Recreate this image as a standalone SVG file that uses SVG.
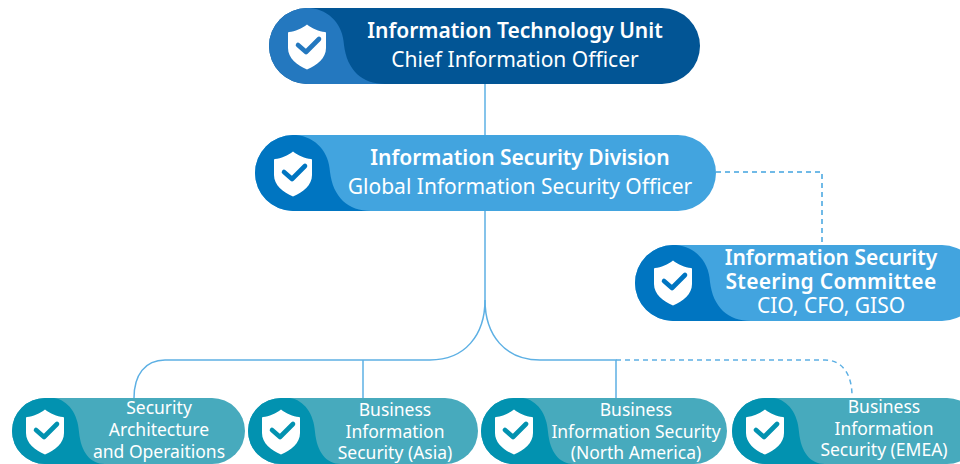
<svg xmlns="http://www.w3.org/2000/svg" width="960" height="464" viewBox="0 0 960 464">
<style>
text{font-family:"Noto Sans","Liberation Sans",sans-serif;fill:#fff;text-anchor:middle}
.b{font-weight:600;font-size:21px}
.r{font-size:21px;font-weight:400}
.s{font-size:17.5px;font-weight:400}
.ln{fill:none;stroke:#5db0e4;stroke-width:1.5}
.ds{stroke-dasharray:5 4}
.ck{fill:none;stroke-width:4.6;stroke-linecap:round;stroke-linejoin:round}
</style>
<defs>
<symbol id="sh" viewBox="0 0 38 46" overflow="visible">
<path d="M19 0.5C24 4.5 31 7.5 37 8Q38 8 38 9V24C38 34 29 41.5 19 45.5C9 41.5 0 34 0 24V9Q0 8 1 8C7 7.5 14 4.5 19 0.5Z" fill="#fff"/>
</symbol>
</defs>
<g id="connectors">
<path class="ln" d="M485 84V135"/>
<path class="ln" d="M485 211V300C485 335 465 360 430 360H165C145 360 134 375 134 398"/>
<path class="ln" d="M485 300C485 335 505 360 540 360H616V398"/>
<path class="ln" d="M363 360V398"/>
<path class="ln ds" style="stroke:#42a4df" d="M716 172H822V245"/>
<path class="ln ds" d="M616 360H825C842 360 852 374 852 396"/>
</g>
<g id="n1">
<rect x="269" y="8" width="431" height="76" rx="38" fill="#025595"/>
<path d="M307 8H310C330 10 343 25 344 45C347 70 362 84 385 84H307A38 38 0 0 1 307 8Z" fill="#2478bf"/>
<use href="#sh" x="288" y="24" width="38" height="46"/>
<path class="ck" d="M298 45L306 52L319 39" stroke="#2478bf"/>
<text class="b" x="515" y="38">Information Technology Unit</text>
<text class="r" x="515" y="67">Chief Information Officer</text>
</g>
<g id="n2">
<rect x="255" y="135" width="461" height="76" rx="38" fill="#42a4df"/>
<path d="M293 135H296C316 137 329 152 330 172C333 197 348 211 371 211H293A38 38 0 0 1 293 135Z" fill="#0075c1"/>
<use href="#sh" x="274" y="151" width="38" height="46"/>
<path class="ck" d="M284 172L292 179L305 166" stroke="#0075c1"/>
<text class="b" x="520" y="165">Information Security Division</text>
<text class="r" x="520" y="194">Global Information Security Officer</text>
</g>
<g id="n3">
<rect x="635" y="245" width="345" height="76" rx="38" fill="#42a4df"/>
<path d="M673 245H676C696 247 709 262 710 282C713 307 728 321 751 321H673A38 38 0 0 1 673 245Z" fill="#0075c1"/>
<use href="#sh" x="654" y="260" width="38" height="46"/>
<path class="ck" d="M664 281L672 288L685 275" stroke="#0075c1"/>
<text class="b" x="831" y="265">Information Security</text>
<text class="b" x="831" y="289" style="letter-spacing:.28px">Steering Committee</text>
<text class="r" x="831" y="313">CIO, CFO, GISO</text>
</g>
<g id="n4">
<rect x="12" y="398" width="233" height="66" rx="33" fill="#47aabd"/>
<path d="M45 398H54C68 400 78 414 79 432C81 452 90 464 105 464H45A33 33 0 0 1 45 398Z" fill="#0292b0"/>
<use href="#sh" x="26" y="409" width="38" height="46"/>
<path class="ck" d="M36 430L44 437L57 424" stroke="#0292b0"/>
<text class="s" x="159" y="414">Security</text>
<text class="s" x="159" y="436">Architecture</text>
<text class="s" x="159" y="458">and Operaitions</text>
</g>
<g id="n5">
<rect x="248" y="398" width="230" height="66" rx="33" fill="#47aabd"/>
<path d="M281 398H290C304 400 314 414 315 432C317 452 326 464 341 464H281A33 33 0 0 1 281 398Z" fill="#0292b0"/>
<use href="#sh" x="262" y="409" width="38" height="46"/>
<path class="ck" d="M272 430L280 437L293 424" stroke="#0292b0"/>
<text class="s" x="395" y="416">Business</text>
<text class="s" x="395" y="438">Information</text>
<text class="s" x="395" y="459">Security (Asia)</text>
</g>
<g id="n6">
<rect x="481" y="398" width="246" height="66" rx="33" fill="#47aabd"/>
<path d="M514 398H523C537 400 547 414 548 432C550 452 559 464 574 464H514A33 33 0 0 1 514 398Z" fill="#0292b0"/>
<use href="#sh" x="495" y="409" width="38" height="46"/>
<path class="ck" d="M505 430L513 437L526 424" stroke="#0292b0"/>
<text class="s" x="636" y="416">Business</text>
<text class="s" x="636" y="438">Information Security</text>
<text class="s" x="636" y="459">(North America)</text>
</g>
<g id="n7">
<rect x="732" y="398" width="248" height="66" rx="33" fill="#47aabd"/>
<path d="M765 398H774C788 400 798 414 799 432C801 452 810 464 825 464H765A33 33 0 0 1 765 398Z" fill="#0292b0"/>
<use href="#sh" x="746" y="409" width="38" height="46"/>
<path class="ck" d="M756 430L764 437L777 424" stroke="#0292b0"/>
<text class="s" x="884" y="413">Business</text>
<text class="s" x="884" y="435">Information</text>
<text class="s" x="884" y="456">Security (EMEA)</text>
</g>
</svg>
